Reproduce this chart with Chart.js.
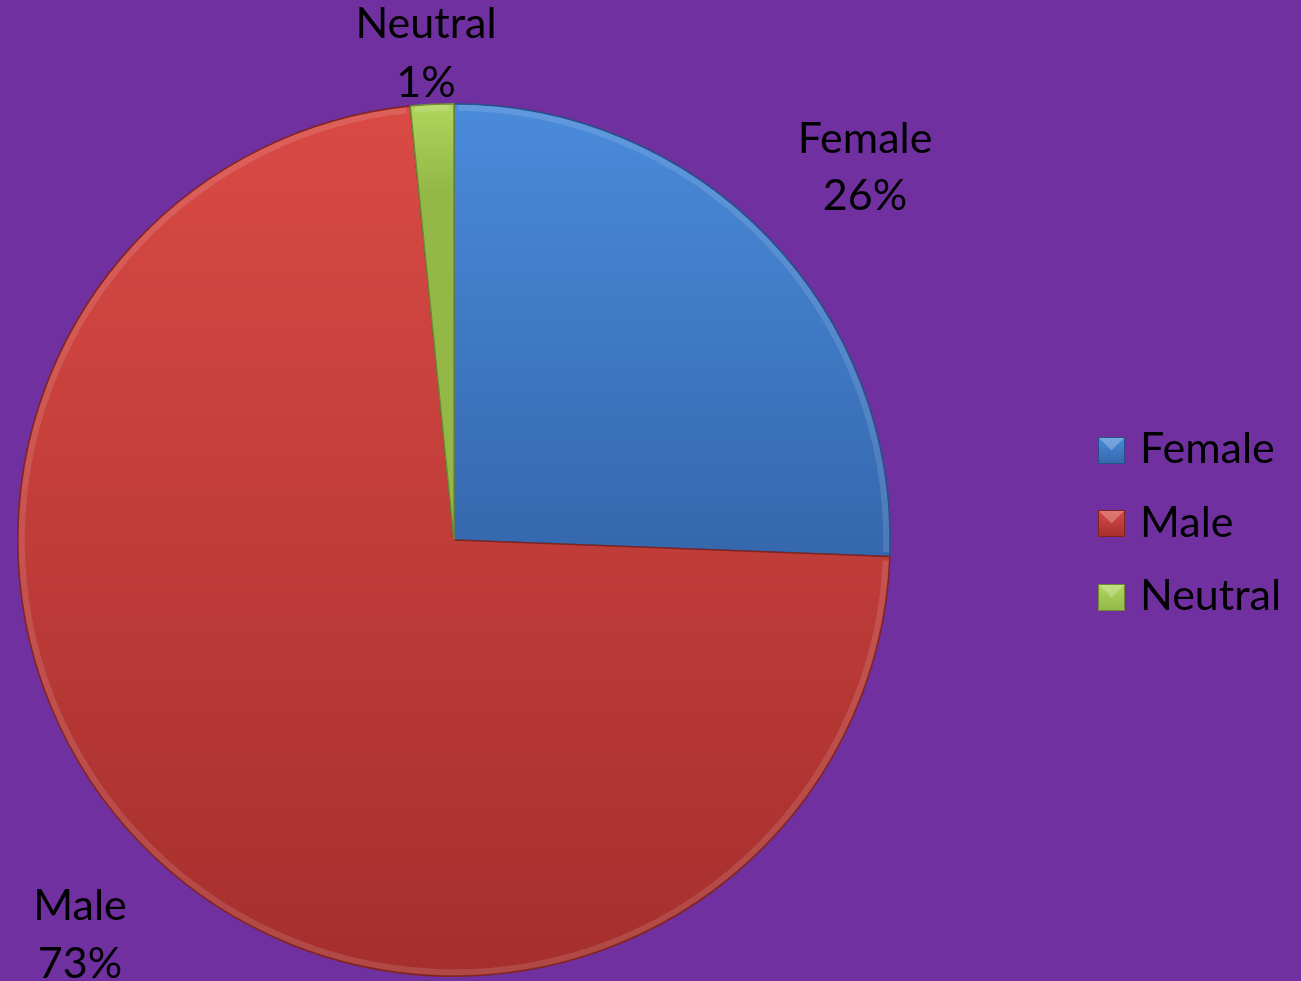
<!DOCTYPE html>
<html>
<head>
<meta charset="utf-8">
<script src="https://cdn.jsdelivr.net/npm/chart.js@4/dist/chart.umd.min.js"></script>
<style>
  html, body { margin: 0; padding: 0; background: #7030A0; }
  #wrap { width: 1301px; height: 981px; position: relative; }
</style>
</head>
<body>
<div id="wrap"><canvas id="c" width="1301" height="981"></canvas></div>
<script>
const categories = ['Female', 'Male', 'Neutral'];
const values = [25.6, 72.8, 1.6];
const pctLabels = ['26%', '73%', '1%'];

const topColors = ['#4A8BDA', '#DA4A45', '#B0D65C'];
const bottomColors = ['#3567AD', '#A52F2D', '#93B848'];
const edgeColors = ['#2A4F85', '#7E2523', '#6E8A35'];

const FONT = '43px Lato, Calibri, "Open Sans", sans-serif';

function sliceFill(ctx) {
  const chart = ctx.chart;
  const area = chart.chartArea;
  const i = ctx.dataIndex;
  if (!area) return topColors[i];
  const g = chart.ctx.createLinearGradient(0, area.top, 0, area.bottom);
  if (i === 0) {
    g.addColorStop(0, topColors[0]);
    g.addColorStop(0.52, bottomColors[0]);
    g.addColorStop(1, bottomColors[0]);
  } else if (i === 1) {
    g.addColorStop(0, topColors[1]);
    g.addColorStop(1, bottomColors[1]);
  } else {
    g.addColorStop(0, topColors[2]);
    g.addColorStop(0.1, bottomColors[2]);
    g.addColorStop(1, bottomColors[2]);
  }
  return g;
}

const labelPos = [
  { x: 865, y1: 153, y2: 210 },
  { x: 80, y1: 920, y2: 978 },
  { x: 426, y1: 38, y2: 97 }
];

const legendRows = [
  { box: 437, base: 463 },
  { box: 510, base: 537 },
  { box: 584, base: 610 }
];

const overlayPlugin = {
  id: 'overlay',
  beforeDraw(chart) {
    const c = chart.ctx;
    c.save();
    c.fillStyle = '#7030A0';
    c.fillRect(0, 0, chart.width, chart.height);
    c.restore();
  },
  afterDatasetsDraw(chart) {
    // bevel highlight along the rim
    const c = chart.ctx;
    const meta = chart.getDatasetMeta(0);
    meta.data.forEach((arc, i) => {
      const p = arc.getProps(['x', 'y', 'startAngle', 'endAngle', 'outerRadius']);
      c.save();
      c.beginPath();
      c.arc(p.x, p.y, p.outerRadius - 4, p.startAngle + 0.01, p.endAngle - 0.01);
      c.strokeStyle = 'rgba(255,255,255,0.12)';
      c.lineWidth = 6;
      c.stroke();
      c.restore();
    });
  },
  afterDraw(chart) {
    const c = chart.ctx;
    c.save();
    c.font = FONT;
    c.fillStyle = '#000000';
    c.textBaseline = 'alphabetic';
    // data labels
    categories.forEach((name, i) => {
      const lp = labelPos[i];
      c.textAlign = 'center';
      c.fillText(name, lp.x, lp.y1);
      c.fillText(pctLabels[i], lp.x, lp.y2);
    });
    // legend
    categories.forEach((name, i) => {
      const r = legendRows[i];
      const x = 1098, s = 27, y = r.box;
      const g = c.createLinearGradient(0, y, 0, y + s);
      g.addColorStop(0, topColors[i]);
      g.addColorStop(1, bottomColors[i]);
      c.fillStyle = g;
      c.fillRect(x, y, s, s);
      c.strokeStyle = edgeColors[i];
      c.lineWidth = 1;
      c.strokeRect(x + 0.5, y + 0.5, s - 1, s - 1);
      c.fillStyle = 'rgba(255,255,255,0.25)';
      c.beginPath();
      c.moveTo(x + 1, y + 1); c.lineTo(x + s - 1, y + 1); c.lineTo(x + s / 2, y + s / 2);
      c.closePath(); c.fill();
      c.fillStyle = '#000000';
      c.textAlign = 'left';
      c.fillText(name, 1140, r.base);
    });
    c.restore();
  }
};

new Chart(document.getElementById('c'), {
  type: 'pie',
  data: {
    labels: categories,
    datasets: [{
      data: values,
      backgroundColor: sliceFill,
      borderColor: edgeColors,
      borderWidth: 1.5
    }]
  },
  options: {
    responsive: false,
    animation: false,
    layout: { padding: { left: 17, top: 103, right: 410, bottom: 4 } },
    plugins: {
      legend: { display: false },
      tooltip: { enabled: false }
    }
  },
  plugins: [overlayPlugin]
});
</script>
</body>
</html>
